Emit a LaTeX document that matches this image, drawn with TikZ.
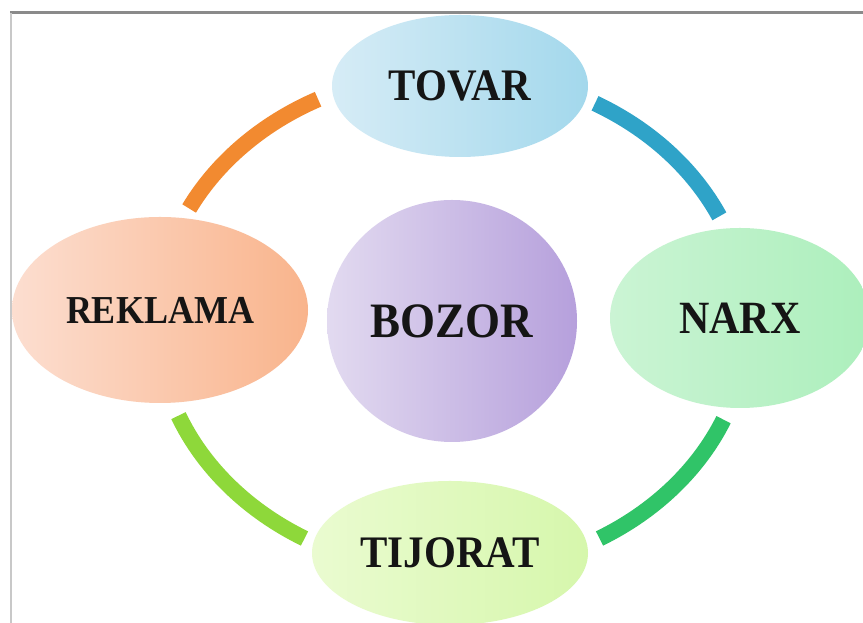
\documentclass[tikz,border=0pt]{standalone}
\usepackage{fontspec}
\usepackage{graphicx}
\setmainfont{Liberation Serif}
\usetikzlibrary{shapes.geometric}
\definecolor{txt}{HTML}{151515}
\definecolor{framegray}{HTML}{8A8A8A}
\definecolor{leftgray}{HTML}{C8C8C8}
\definecolor{arcorange}{HTML}{F28A30}
\definecolor{arcblue}{HTML}{2FA3C8}
\definecolor{arclime}{HTML}{8ED83A}
\definecolor{arcgreen}{HTML}{30C468}
\newcommand{\tallword}[1]{\scalebox{1}[1.1]{#1}}
\begin{document}
\begin{tikzpicture}[x=1pt,y=1pt,
  bub/.style={ellipse, inner sep=0pt, text=txt},
  ringarc/.style={line width=16pt},
  fs/.style={font=\bfseries\fontsize{#1}{#1}\selectfont}]
\useasboundingbox (0,0) rectangle (863,623);
\fill[white] (0,0) rectangle (863,623);
\draw[line width=3pt, framegray] (10,610) -- (863,610);
\draw[line width=2pt, leftgray] (11,610) -- (11,0);
\coordinate (ring) at (452,301);
% ring arcs
\draw[ringarc, arcorange] (ring) ++(153:295 and 250) arc[start angle=153, end angle=117, x radius=295, y radius=250];
\draw[ringarc, arcblue] (ring) ++(61:295 and 250) arc[start angle=61, end angle=25, x radius=295, y radius=250];
\draw[ringarc, arcgreen] (ring) ++(-23:295 and 250) arc[start angle=-23, end angle=-60, x radius=295, y radius=250];
\draw[ringarc, arclime] (ring) ++(202:295 and 250) arc[start angle=202, end angle=240, x radius=295, y radius=250];
% nodes
\node[bub, fs=41, minimum width=256pt, minimum height=142pt,
      left color={rgb,255:red,214;green,236;blue,246}, right color={rgb,255:red,163;green,216;blue,236}] (tov) at (460,537) {\tallword{TOVAR}};
\node[bub, fs=36, minimum width=296pt, minimum height=186pt,
      left color={rgb,255:red,252;green,222;blue,208}, right color={rgb,255:red,249;green,180;blue,140}] (rek) at (160,313) {\tallword{REKLAMA}};
\node[bub, fs=42, minimum width=260pt, minimum height=180pt,
      left color={rgb,255:red,203;green,244;blue,212}, right color={rgb,255:red,172;green,239;blue,188}] (nar) at (740,305) {\tallword{NARX}};
\node[bub, fs=41, minimum width=276pt, minimum height=144pt,
      left color={rgb,255:red,234;green,251;blue,208}, right color={rgb,255:red,214;green,247;blue,172}] (tij) at (450,70) {\tallword{TIJORAT}};
\node[bub, fs=45, minimum width=250pt, minimum height=242pt,
      left color={rgb,255:red,226;green,218;blue,240}, right color={rgb,255:red,182;green,160;blue,220}] (boz) at (452,302) {\tallword{BOZOR}};
\end{tikzpicture}
\end{document}
